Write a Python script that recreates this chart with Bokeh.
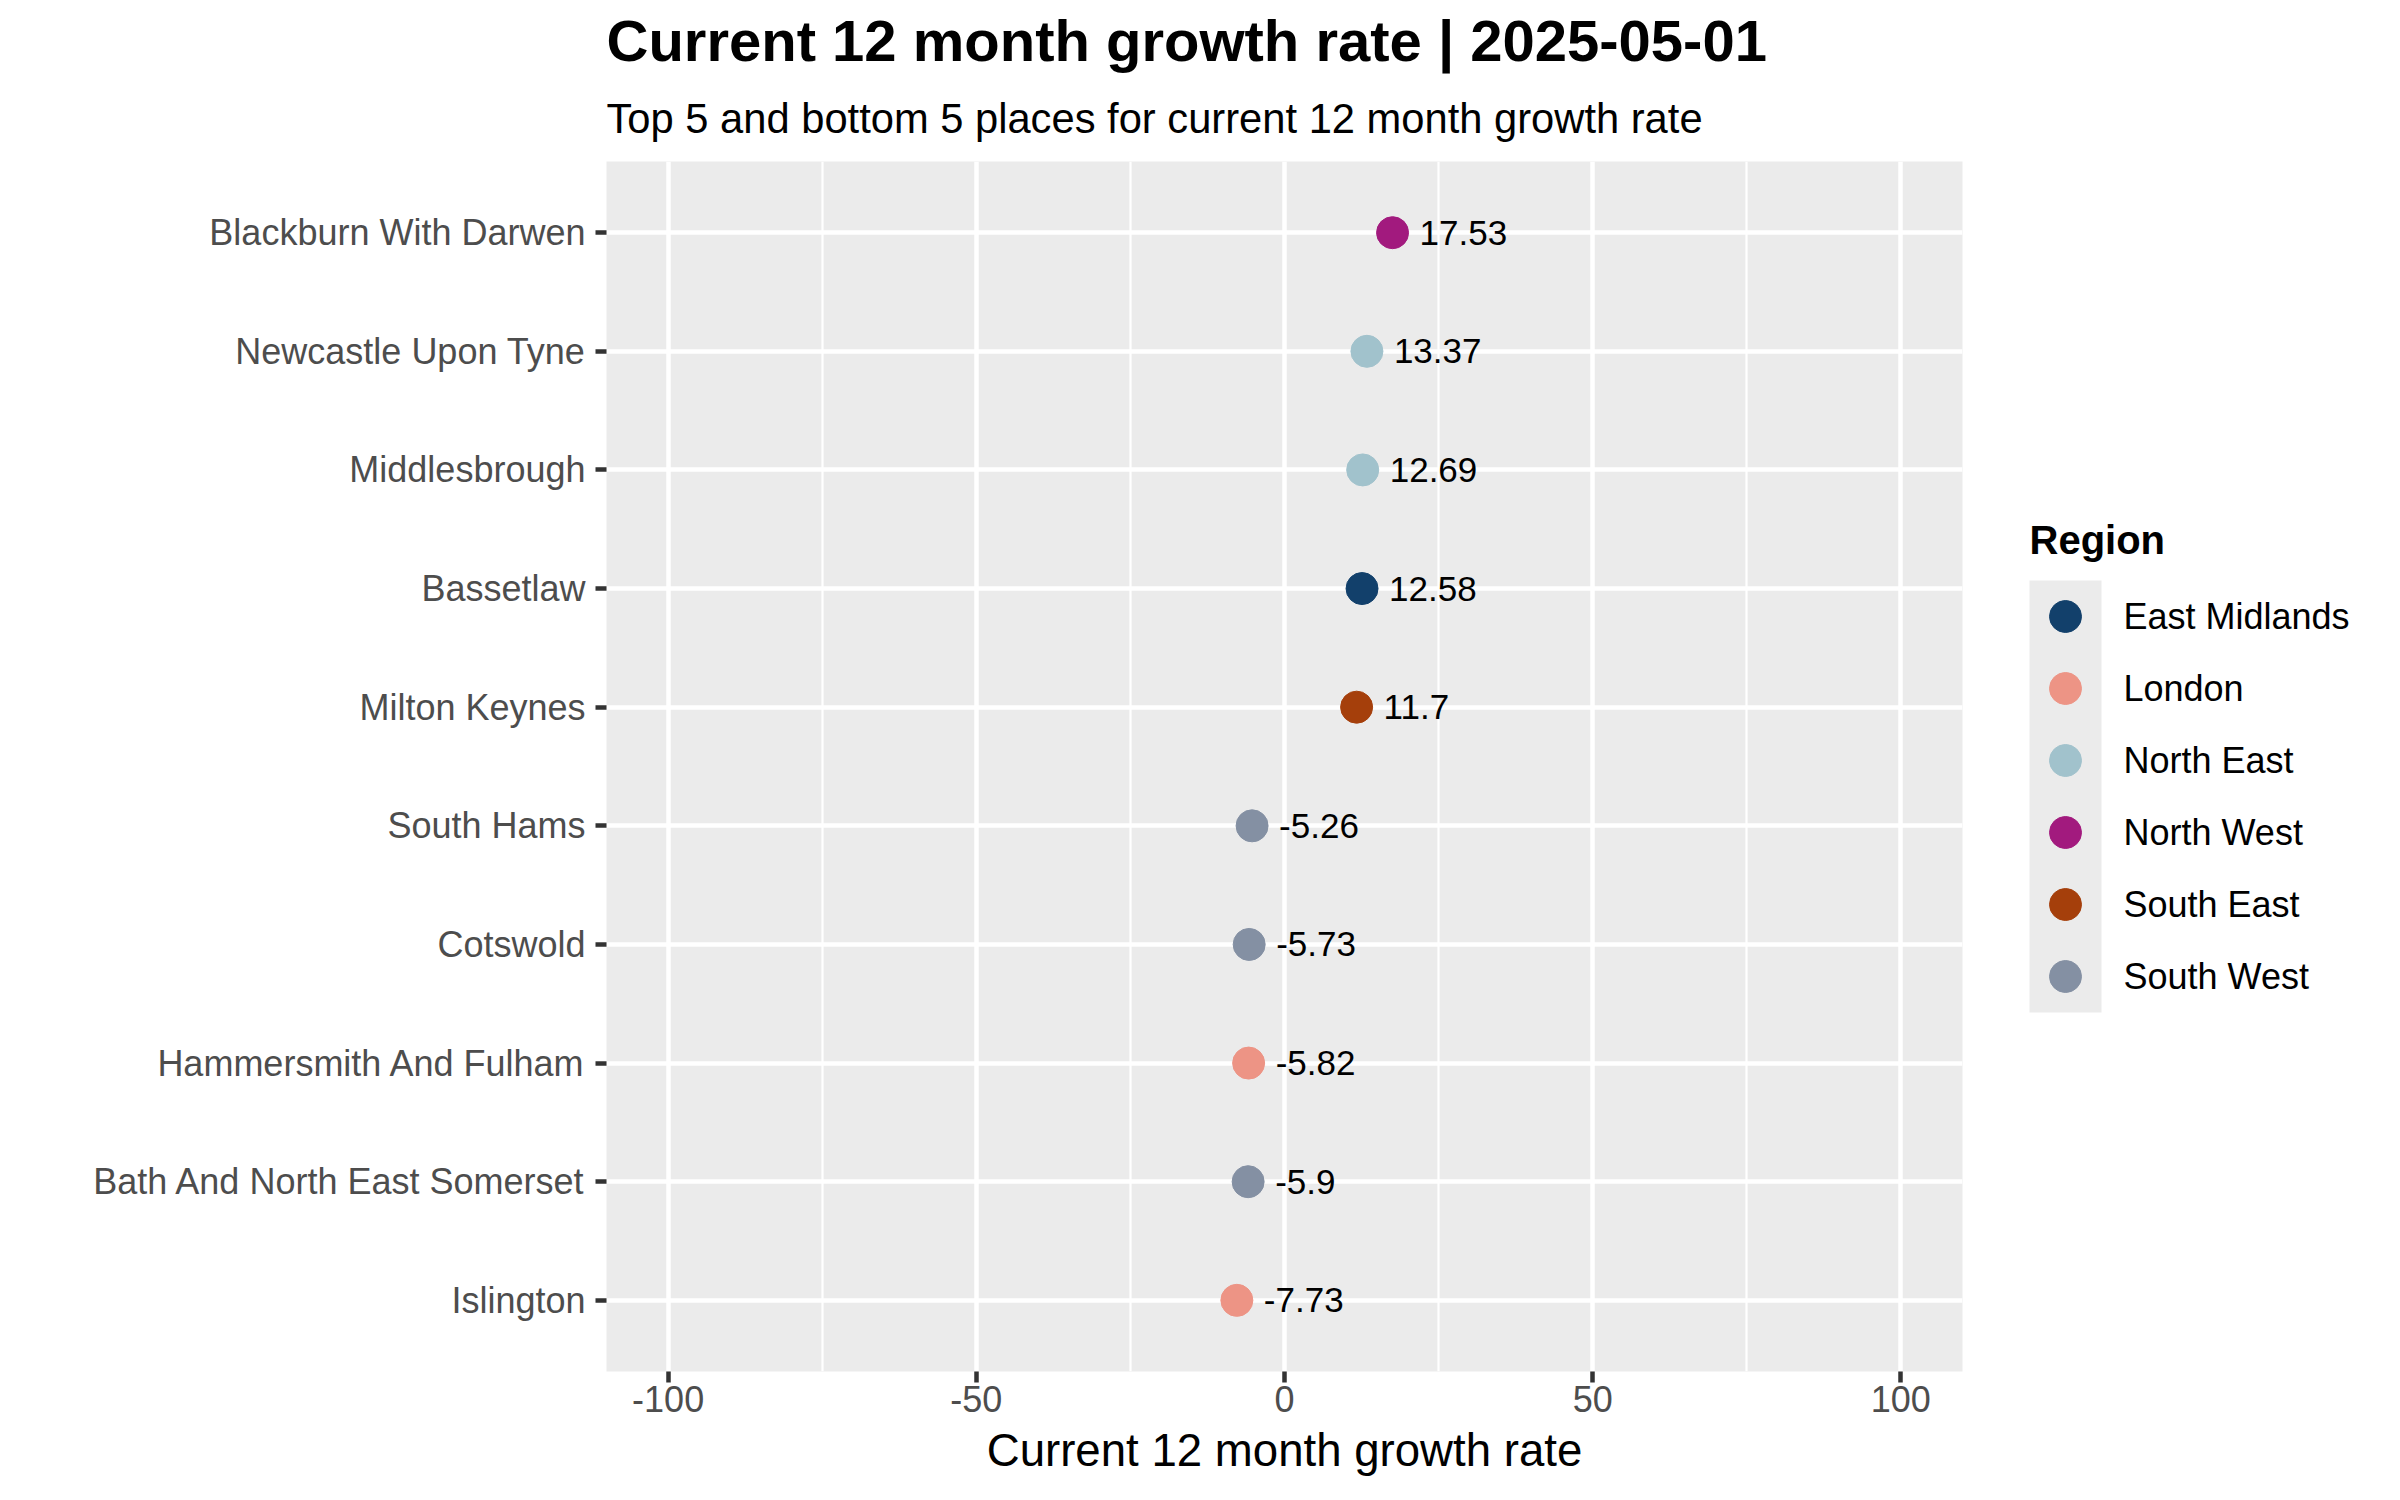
from bokeh.plotting import figure
from bokeh.models import Range1d, FactorRange, FixedTicker, Title, ColumnDataSource
from bokeh.layouts import row
from bokeh.core.properties import value
from bokeh.embed import file_html
from bokeh.resources import INLINE

# ---------------- data ----------------
places = [
    "Blackburn With Darwen",
    "Newcastle Upon Tyne",
    "Middlesbrough",
    "Bassetlaw",
    "Milton Keynes",
    "South Hams",
    "Cotswold",
    "Hammersmith And Fulham",
    "Bath And North East Somerset",
    "Islington",
]
growth = [17.53, 13.37, 12.69, 12.58, 11.7, -5.26, -5.73, -5.82, -5.9, -7.73]
place_region = [
    "North West", "North East", "North East", "East Midlands", "South East",
    "South West", "South West", "London", "South West", "London",
]
regions = ["East Midlands", "London", "North East", "North West", "South East", "South West"]
region_colors = ["#12406B", "#ED9485", "#A1C2CC", "#A21A7E", "#A53F0B", "#8490A3"]
x_ticks = [-100, -50, 0, 50, 100]
x_tick_labels = ["-100", "-50", "0", "50", "100"]
x_minor = [-75, -25, 25, 75]

title_text = "Current 12 month growth rate | 2025-05-01"
subtitle_text = "Top 5 and bottom 5 places for current 12 month growth rate"
x_title = "Current 12 month growth rate"
legend_title = "Region"

FONT = "Liberation Sans"
color_of = dict(zip(regions, region_colors))

# ---------------- main panel ----------------
W, H = 2400, 1500
W1 = 2018
FL, FR, FT, FB = 606, 56, 161, 129  # frame borders

p = figure(
    width=W1, height=H, title=None,
    x_range=Range1d(-110, 110),
    y_range=FactorRange(factors=places[::-1], range_padding=0.02),
    output_backend="svg", toolbar_location=None,
    min_border_left=FL, min_border_right=FR, min_border_top=FT, min_border_bottom=FB,
)
p.background_fill_color = "#EBEBEB"
p.border_fill_color = "white"
p.outline_line_color = None

p.xaxis.ticker = FixedTicker(ticks=x_ticks, minor_ticks=x_minor)
p.xaxis.major_label_overrides = {t: l for t, l in zip(x_ticks, x_tick_labels)}
for ax in (p.xaxis, p.yaxis):
    ax.axis_line_color = None
    ax.major_tick_in = 0
    ax.major_tick_out = 11
    ax.major_tick_line_color = "#333333"
    ax.major_tick_line_width = 4.5
    ax.minor_tick_line_color = None
    ax.major_label_text_font = FONT
    ax.major_label_text_font_size = "36px"
    ax.major_label_text_color = "#4D4D4D"
p.xaxis.major_label_standoff = 3
p.yaxis.major_label_standoff = 10

p.xaxis.axis_label = x_title
p.xaxis.axis_label_text_font = FONT
p.xaxis.axis_label_text_font_size = "45.6px"
p.xaxis.axis_label_text_font_style = "normal"
p.xaxis.axis_label_text_color = "black"
p.xaxis.axis_label_standoff = 10

p.xgrid.grid_line_color = "white"
p.xgrid.grid_line_width = 4.5
p.xgrid.minor_grid_line_color = "white"
p.xgrid.minor_grid_line_width = 2.2
p.ygrid.grid_line_color = "white"
p.ygrid.grid_line_width = 4.5

src = ColumnDataSource(dict(
    place=places,
    growth=growth,
    region=place_region,
    color=[color_of[r] for r in place_region],
    label=[str(v) for v in growth],
))
p.scatter(x="growth", y="place", source=src, size=32, marker="circle",
          fill_color="color", line_color="color", line_width=1)
p.text(x="growth", y="place", text="label", source=src, x_offset=27,
       text_align="left", text_baseline="middle", text_font=value(FONT),
       text_font_size="35px", text_color="black")

# subtitle first (closest to the frame), then the title above it
p.add_layout(Title(text=subtitle_text, align="left", offset=0, standoff=40,
                   text_font=FONT, text_font_size="41.7px", text_font_style="normal",
                   text_color="black"), "above")
p.add_layout(Title(text=title_text, align="left", offset=0, standoff=0,
                   text_font=FONT, text_font_size="58px", text_font_style="bold",
                   text_color="black"), "above")

# ---------------- legend panel ----------------
W2 = W - W1
q = figure(width=W2, height=H, x_range=Range1d(0, W2), y_range=Range1d(H - FB, FT),
           output_backend="svg", toolbar_location=None,
           x_axis_type=None, y_axis_type=None,
           min_border_left=0, min_border_right=0, min_border_top=FT, min_border_bottom=FB)
q.grid.visible = False
q.outline_line_color = None
q.background_fill_color = "white"
q.border_fill_color = "white"

KEY_L, KEY_W, TOP, PITCH = 11, 72, 580, 72
n = len(regions)
q.quad(left=[KEY_L], right=[KEY_L + KEY_W], top=[TOP], bottom=[TOP + n * PITCH],
       fill_color="#EBEBEB", line_color=None)
leg = ColumnDataSource(dict(
    region=regions,
    color=region_colors,
    kx=[KEY_L + KEY_W / 2] * n,
    tx=[KEY_L + KEY_W + 22] * n,
    ky=[TOP + (i + 0.5) * PITCH for i in range(n)],
))
q.scatter(x="kx", y="ky", source=leg, size=32, marker="circle",
          fill_color="color", line_color="color", line_width=1)
q.text(x="tx", y="ky", text="region", source=leg, text_align="left",
       text_baseline="middle", text_font=value(FONT), text_font_size="36px",
       text_color="black")
q.text(x=[KEY_L], y=[TOP - 41], text=[legend_title], text_align="left",
       text_baseline="middle", text_font=value(FONT), text_font_size="40px",
       text_font_style="bold", text_color="black")

layout = row(p, q)
open("out.html", "w").write(file_html(layout, INLINE))
